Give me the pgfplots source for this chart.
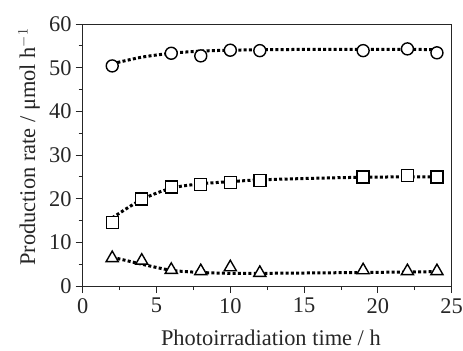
\documentclass[border=0pt]{standalone}
\usepackage{fontspec}
\setmainfont{Liberation Serif}
\usepackage{pgfplots}
\pgfplotsset{compat=1.18}
\begin{document}
\begin{tikzpicture}
\begin{axis}[
  at={(0,0)}, anchor=south west,
  scale only axis,
  width=369bp, height=262bp,
  xmin=0, xmax=25, ymin=0, ymax=60,
  xtick={0,5,...,25}, ytick={0,10,...,60},
  minor x tick num=1, minor y tick num=1,
  tick align=outside,
  xtick pos=bottom, ytick pos=left,
  major tick length=7bp, minor tick length=4bp,
  axis line style={black!85, line width=0.9bp},
  every tick/.style={black!85, line width=0.9bp},
  font=\fontsize{22.5}{26}\selectfont,
  tick label style={font=\fontsize{22.5}{26}\selectfont, text=black!85},
  xticklabel style={inner sep=0pt, yshift=-5bp},
  yticklabel style={inner sep=0pt, xshift=-4bp},
  /pgf/number format/assume math mode=true,
  xlabel={Photoirradiation time / h},
  ylabel={Production rate / μmol h$^{-1}$},
  xlabel style={at={(axis description cs:0.51,0)}, anchor=base, inner sep=0pt, yshift=-59.5bp, text=black!85},
  ylabel style={at={(axis description cs:0,0.53)}, anchor=base, inner sep=0pt, yshift=47.5bp, text=black!85},
  clip=false,
]
% fitted curves
\addplot[black, line width=3bp, dash pattern=on 3bp off 2.3bp, smooth] coordinates {
 (2,50.9) (4,52.4) (6,53.3) (8,53.8) (10,54.0) (12,54.1) (16,54.2) (19,54.2) (22,54.2) (24,54.1)};
\addplot[black, line width=3bp, dash pattern=on 3bp off 2.3bp, smooth] coordinates {
 (2,15.6) (4,19.8) (6,22.4) (8,23.4) (10,23.9) (12,24.3) (16,24.7) (19,24.9) (22,25.0) (24,25.0)};
\addplot[black, line width=3bp, dash pattern=on 3bp off 2.3bp, smooth] coordinates {
 (2,6.6) (4,5.0) (6,3.6) (8,3.1) (10,2.9) (12,2.9) (16,3.0) (19,3.1) (22,3.2) (24,3.3)};
% data
\addplot[only marks, mark=*, mark size=6bp, mark options={fill=white, draw=black, line width=1.4bp}] coordinates {
 (2,50.4) (6,53.3) (8,52.7) (10,54.0) (12,53.9) (19,53.9) (22,54.3) (24,53.4)};
\addplot[only marks, mark=square*, mark size=6bp, mark options={fill=white, draw=black, line width=1.4bp}] coordinates {
 (2,14.5) (4,19.9) (6,22.7) (8,23.3) (10,23.7) (12,24.1) (19,25.0) (22,25.3) (24,25.0)};
\addplot[only marks, mark=triangle*, mark size=7bp, mark options={fill=white, draw=black, line width=1.4bp}] coordinates {
 (2,6.4) (4,5.8) (6,3.7) (8,3.4) (10,4.3) (12,3.0) (19,3.6) (22,3.4) (24,3.4)};
\end{axis}
\path[use as bounding box] (-82.7bp,-65bp) rectangle (380.3bp,286bp);
\end{tikzpicture}
\end{document}
